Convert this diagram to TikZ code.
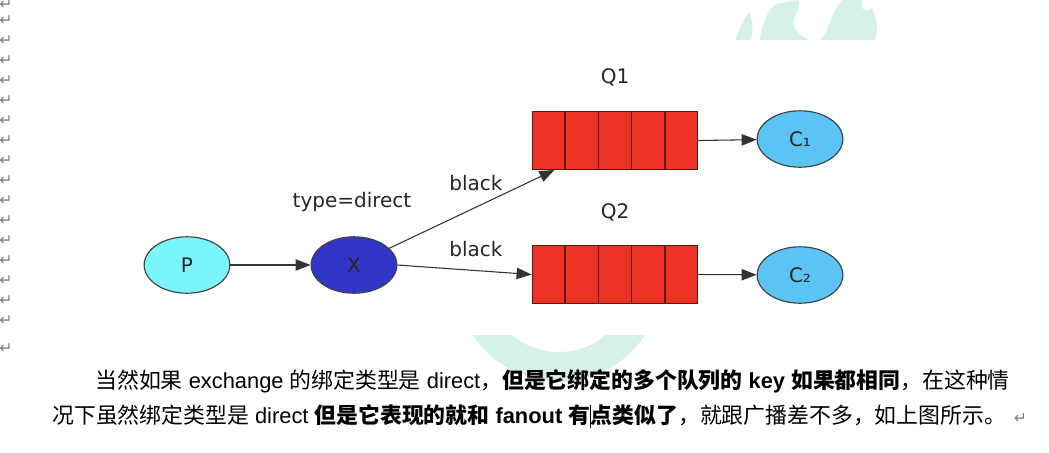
\documentclass[tikz,border=0pt]{standalone}
\usepackage{fontspec}
\setmainfont{Liberation Sans}
\newfontfamily\cjkfont{Noto Sans CJK SC}
\newfontfamily\graphfont{DejaVu Sans}
\usetikzlibrary{arrows.meta, shapes.geometric, calc}

\definecolor{prodcyan}{RGB}{122,246,250}
\definecolor{exblue}{RGB}{50,54,200}
\definecolor{qred}{RGB}{236,50,36}
\definecolor{qedge}{RGB}{95,22,15}
\definecolor{conblue}{RGB}{92,196,245}
\definecolor{mint}{RGB}{213,241,234}
\definecolor{markgray}{RGB}{125,125,125}

\begin{document}
\begin{tikzpicture}[x=0.7pt, y=-0.7pt,
    every node/.style={inner sep=0pt},
    gtext/.style={font=\graphfont\fontsize{14}{16}\selectfont, text=black!85},
    agent/.style={ellipse, draw=black!75, line width=0.8pt, minimum width=60pt, minimum height=39.5pt, gtext},
    queuebox/.style={rectangle, draw=qedge, fill=qred, line width=0.8pt, minimum width=116pt, minimum height=40.5pt},
    link/.style={draw=black!80, line width=0.75pt, -{Triangle[length=10.5pt, width=8pt]}},
    retmark/.style={font=\graphfont\fontsize{11}{11}\selectfont, text=markgray},
    body/.style={font=\fontsize{15.3}{18}\selectfont, anchor=base west}]

    % Page size
    \useasboundingbox (0,0) rectangle (1049,452);

    % Watermark behind the page
    \begin{scope}
        \clip (0,335) rectangle (1049,452);
        \fill[mint, even odd rule] (559,278.5) circle[radius=103] (559,278.5) circle[radius=73.5];
    \end{scope}
    \begin{scope}
        \clip (0,0) rectangle (1049,40);
        \fill[mint] (735,40) .. controls (740,28) and (744,18) .. (749,12) .. controls (753,22) and (753,32) .. (751,40) -- cycle;
        \fill[mint] (760,40) .. controls (761,28) and (766,12) .. (776,4) -- (798,0) .. controls (802,10) and (790,18) .. (795,28) .. controls (800,36) and (806,38) .. (810,40) -- cycle;
        \fill[mint] (820,40) .. controls (830,30) and (832,10) .. (842,0) -- (862,0) .. controls (860,10) and (866,14) .. (872,8) .. controls (878,20) and (878,32) .. (875,40) -- cycle;
    \end{scope}

    % Paragraph marks down the left edge
    \node[retmark] (ret0) at (6,5) {↵};
    \foreach \k in {1,...,16} {
        \node[retmark] (ret\k) at (6,20*\k+1) {↵};
    }
    \node[retmark] (ret17) at (6,349) {↵};

    % Producer, exchange and consumers
    \node[agent, fill=prodcyan] (p) at (187,265) {P};
    \node[agent, fill=exblue] (x) at (354,265) {X};
    \node[gtext] (xlabel) at (352,202) {type=direct};
    \node[agent, fill=conblue] (c1) at (800,139) {C₁};
    \node[agent, fill=conblue] (c2) at (800,275) {C₂};

    % Queues
    \node[queuebox] (q1) at (615,140.5) {};
    \node[queuebox] (q2) at (615,274.5) {};
    \node[gtext] (q1label) at (615,77) {Q1};
    \node[gtext] (q2label) at (615,212) {Q2};
    \foreach \q in {q1,q2} {
        \foreach \i in {1,...,4} {
            \draw[qedge, line width=0.8pt] ($(\q.north west)!\i/5!(\q.north east)$) -- ($(\q.south west)!\i/5!(\q.south east)$);
        }
    }

    % Bindings
    \draw[link] (p) -- (x);
    \draw[link] (x) -- ([xshift=16pt]q1.south west);
    \draw[link] (x.east) -- (q2.west);
    \draw[link] (q1.east) -- (c1);
    \draw[link] (q2.east) -- (c2);
    \node[gtext] (key1) at (476,183) {black};
    \node[gtext] (key2) at (476,249) {black};

    % Text under the figure
    \node[body] (line1) at (95,388) {{\cjkfont 当然如果} exchange {\cjkfont 的绑定类型是} direct{\cjkfont ，\bfseries 但是它绑定的多个队列的} \textbf{key} {\cjkfont\bfseries 如果都相同}{\cjkfont ，在这种情}};
    \node[body] (line2a) at (52,423) {{\cjkfont 况下虽然绑定类型是} direct {\cjkfont\bfseries 但是它表现的就和} \textbf{fanout} {\cjkfont\bfseries 有}};
    \node[body] (line2b) at (line2a.base east) {{\cjkfont\bfseries 点类似了}{\cjkfont ，就跟广播差不多，如上图所示。}};
    \node[retmark, anchor=base west] (ret18) at ([xshift=5pt]line2b.base east) {↵};
    \draw[black, line width=0.6pt] ([yshift=-3.5pt]line2a.base east) -- ([yshift=12.5pt]line2a.base east);

\end{tikzpicture}
\end{document}
